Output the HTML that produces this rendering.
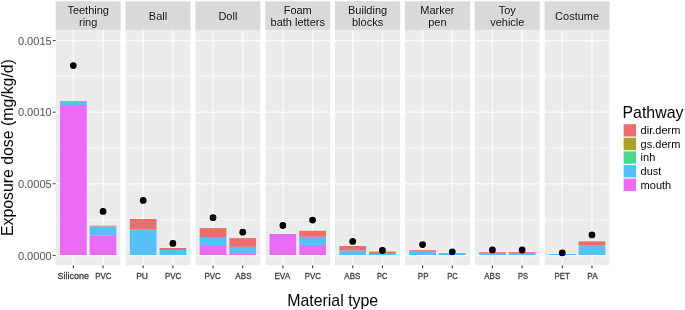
<!DOCTYPE html><html><head><meta charset="utf-8"><style>html,body{margin:0;padding:0;background:#fff;}svg{display:block;will-change:transform;}text{font-family:"Liberation Sans",sans-serif;}</style></head><body>
<svg width="685" height="310" viewBox="0 0 685 310">
<defs><filter id="bl" x="0" y="0" width="100%" height="100%" filterUnits="userSpaceOnUse" color-interpolation-filters="sRGB"><feConvolveMatrix order="3" kernelMatrix="0 -0.05 0 -0.05 1.2 -0.05 0 -0.05 0" edgeMode="duplicate" preserveAlpha="true"/></filter></defs>
<rect x="0" y="0" width="685" height="310" fill="#fff"/>
<g filter="url(#bl)">
<rect x="55.50" y="1.0" width="65.35" height="29.80" fill="#D9D9D9"/>
<rect x="55.50" y="29.8" width="65.35" height="235.70" fill="#EAECEB"/>
<rect x="55.50" y="219.11" width="65.35" height="0.9" fill="#F6F6F6"/>
<rect x="55.50" y="147.51" width="65.35" height="0.9" fill="#F6F6F6"/>
<rect x="55.50" y="75.92" width="65.35" height="0.9" fill="#F6F6F6"/>
<rect x="55.50" y="255.00" width="65.35" height="1.4" fill="#FAFAFA"/>
<rect x="55.50" y="183.06" width="65.35" height="1.4" fill="#FAFAFA"/>
<rect x="55.50" y="111.47" width="65.35" height="1.4" fill="#FAFAFA"/>
<rect x="55.50" y="39.88" width="65.35" height="1.4" fill="#FAFAFA"/>
<rect x="72.62" y="29.8" width="1.4" height="235.70" fill="#FAFAFA"/>
<rect x="102.33" y="29.8" width="1.4" height="235.70" fill="#FAFAFA"/>
<rect x="59.96" y="105.00" width="26.73" height="150.00" fill="#EA6CF4"/>
<rect x="59.96" y="101.60" width="26.73" height="3.40" fill="#56C0F8"/>
<rect x="59.96" y="100.95" width="26.73" height="0.65" fill="#EE6E6C"/>
<circle cx="73.32" cy="65.6" r="3.4" fill="#000"/>
<rect x="72.77" y="265.5" width="1.1" height="2.7" fill="#333"/>
<text x="57.54" y="279.2" font-size="9.9" fill="#333333" stroke="#333333" stroke-width="0.3" textLength="31.36" lengthAdjust="spacingAndGlyphs">Silicone</text>
<rect x="89.66" y="235.30" width="26.73" height="19.70" fill="#EA6CF4"/>
<rect x="89.66" y="226.50" width="26.73" height="8.80" fill="#56C0F8"/>
<rect x="89.66" y="225.70" width="26.73" height="0.80" fill="#EE6E6C"/>
<circle cx="103.03" cy="211.4" r="3.4" fill="#000"/>
<rect x="102.48" y="265.5" width="1.1" height="2.7" fill="#333"/>
<text x="95.19" y="279.2" font-size="9.9" fill="#333333" stroke="#333333" stroke-width="0.3" textLength="16.29" lengthAdjust="spacingAndGlyphs">PVC</text>
<text transform="translate(88.17 13.50) scale(1 1.04)" font-size="11.0" fill="#1A1A1A" text-anchor="middle">Teething</text>
<text transform="translate(88.17 25.90) scale(1 1.04)" font-size="11.0" fill="#1A1A1A" text-anchor="middle">ring</text>
<rect x="125.35" y="1.0" width="65.35" height="29.80" fill="#D9D9D9"/>
<rect x="125.35" y="29.8" width="65.35" height="235.70" fill="#EAECEB"/>
<rect x="125.35" y="219.11" width="65.35" height="0.9" fill="#F6F6F6"/>
<rect x="125.35" y="147.51" width="65.35" height="0.9" fill="#F6F6F6"/>
<rect x="125.35" y="75.92" width="65.35" height="0.9" fill="#F6F6F6"/>
<rect x="125.35" y="255.00" width="65.35" height="1.4" fill="#FAFAFA"/>
<rect x="125.35" y="183.06" width="65.35" height="1.4" fill="#FAFAFA"/>
<rect x="125.35" y="111.47" width="65.35" height="1.4" fill="#FAFAFA"/>
<rect x="125.35" y="39.88" width="65.35" height="1.4" fill="#FAFAFA"/>
<rect x="142.47" y="29.8" width="1.4" height="235.70" fill="#FAFAFA"/>
<rect x="172.18" y="29.8" width="1.4" height="235.70" fill="#FAFAFA"/>
<rect x="129.81" y="229.60" width="26.73" height="25.40" fill="#56C0F8"/>
<rect x="129.81" y="219.00" width="26.73" height="10.60" fill="#EE6E6C"/>
<circle cx="143.17" cy="200.4" r="3.4" fill="#000"/>
<rect x="142.62" y="265.5" width="1.1" height="2.7" fill="#333"/>
<text x="136.20" y="279.2" font-size="9.9" fill="#333333" stroke="#333333" stroke-width="0.3" textLength="11.84" lengthAdjust="spacingAndGlyphs">PU</text>
<rect x="159.51" y="250.00" width="26.73" height="5.00" fill="#56C0F8"/>
<rect x="159.51" y="248.00" width="26.73" height="2.00" fill="#EE6E6C"/>
<circle cx="172.88" cy="243.4" r="3.4" fill="#000"/>
<rect x="172.33" y="265.5" width="1.1" height="2.7" fill="#333"/>
<text x="164.92" y="279.2" font-size="9.9" fill="#333333" stroke="#333333" stroke-width="0.3" textLength="16.34" lengthAdjust="spacingAndGlyphs">PVC</text>
<text transform="translate(158.02 19.70) scale(1 1.04)" font-size="11.0" fill="#1A1A1A" text-anchor="middle">Ball</text>
<rect x="195.20" y="1.0" width="65.35" height="29.80" fill="#D9D9D9"/>
<rect x="195.20" y="29.8" width="65.35" height="235.70" fill="#EAECEB"/>
<rect x="195.20" y="219.11" width="65.35" height="0.9" fill="#F6F6F6"/>
<rect x="195.20" y="147.51" width="65.35" height="0.9" fill="#F6F6F6"/>
<rect x="195.20" y="75.92" width="65.35" height="0.9" fill="#F6F6F6"/>
<rect x="195.20" y="255.00" width="65.35" height="1.4" fill="#FAFAFA"/>
<rect x="195.20" y="183.06" width="65.35" height="1.4" fill="#FAFAFA"/>
<rect x="195.20" y="111.47" width="65.35" height="1.4" fill="#FAFAFA"/>
<rect x="195.20" y="39.88" width="65.35" height="1.4" fill="#FAFAFA"/>
<rect x="212.32" y="29.8" width="1.4" height="235.70" fill="#FAFAFA"/>
<rect x="242.03" y="29.8" width="1.4" height="235.70" fill="#FAFAFA"/>
<rect x="199.66" y="245.10" width="26.73" height="9.90" fill="#EA6CF4"/>
<rect x="199.66" y="237.00" width="26.73" height="8.10" fill="#56C0F8"/>
<rect x="199.66" y="228.10" width="26.73" height="8.90" fill="#EE6E6C"/>
<circle cx="213.02" cy="217.7" r="3.4" fill="#000"/>
<rect x="212.47" y="265.5" width="1.1" height="2.7" fill="#333"/>
<text x="204.45" y="279.2" font-size="9.9" fill="#333333" stroke="#333333" stroke-width="0.3" textLength="16.14" lengthAdjust="spacingAndGlyphs">PVC</text>
<rect x="229.36" y="253.90" width="26.73" height="1.10" fill="#EA6CF4"/>
<rect x="229.36" y="246.80" width="26.73" height="7.10" fill="#56C0F8"/>
<rect x="229.36" y="238.10" width="26.73" height="8.70" fill="#EE6E6C"/>
<circle cx="242.73" cy="232.2" r="3.4" fill="#000"/>
<rect x="242.18" y="265.5" width="1.1" height="2.7" fill="#333"/>
<text x="235.29" y="279.2" font-size="9.9" fill="#333333" stroke="#333333" stroke-width="0.3" textLength="16.28" lengthAdjust="spacingAndGlyphs">ABS</text>
<text transform="translate(227.88 19.70) scale(1 1.04)" font-size="11.0" fill="#1A1A1A" text-anchor="middle">Doll</text>
<rect x="265.05" y="1.0" width="65.35" height="29.80" fill="#D9D9D9"/>
<rect x="265.05" y="29.8" width="65.35" height="235.70" fill="#EAECEB"/>
<rect x="265.05" y="219.11" width="65.35" height="0.9" fill="#F6F6F6"/>
<rect x="265.05" y="147.51" width="65.35" height="0.9" fill="#F6F6F6"/>
<rect x="265.05" y="75.92" width="65.35" height="0.9" fill="#F6F6F6"/>
<rect x="265.05" y="255.00" width="65.35" height="1.4" fill="#FAFAFA"/>
<rect x="265.05" y="183.06" width="65.35" height="1.4" fill="#FAFAFA"/>
<rect x="265.05" y="111.47" width="65.35" height="1.4" fill="#FAFAFA"/>
<rect x="265.05" y="39.88" width="65.35" height="1.4" fill="#FAFAFA"/>
<rect x="282.17" y="29.8" width="1.4" height="235.70" fill="#FAFAFA"/>
<rect x="311.88" y="29.8" width="1.4" height="235.70" fill="#FAFAFA"/>
<rect x="269.51" y="234.00" width="26.73" height="21.00" fill="#EA6CF4"/>
<circle cx="282.87" cy="225.5" r="3.4" fill="#000"/>
<rect x="282.32" y="265.5" width="1.1" height="2.7" fill="#333"/>
<text x="274.39" y="279.2" font-size="9.9" fill="#333333" stroke="#333333" stroke-width="0.3" textLength="15.74" lengthAdjust="spacingAndGlyphs">EVA</text>
<rect x="299.21" y="244.90" width="26.73" height="10.10" fill="#EA6CF4"/>
<rect x="299.21" y="236.80" width="26.73" height="8.10" fill="#56C0F8"/>
<rect x="299.21" y="230.80" width="26.73" height="6.00" fill="#EE6E6C"/>
<circle cx="312.58" cy="220.1" r="3.4" fill="#000"/>
<rect x="312.03" y="265.5" width="1.1" height="2.7" fill="#333"/>
<text x="304.84" y="279.2" font-size="9.9" fill="#333333" stroke="#333333" stroke-width="0.3" textLength="16.11" lengthAdjust="spacingAndGlyphs">PVC</text>
<text transform="translate(297.72 13.50) scale(1 1.04)" font-size="11.0" fill="#1A1A1A" text-anchor="middle">Foam</text>
<text transform="translate(297.72 25.90) scale(1 1.04)" font-size="11.0" fill="#1A1A1A" text-anchor="middle">bath letters</text>
<rect x="334.90" y="1.0" width="65.35" height="29.80" fill="#D9D9D9"/>
<rect x="334.90" y="29.8" width="65.35" height="235.70" fill="#EAECEB"/>
<rect x="334.90" y="219.11" width="65.35" height="0.9" fill="#F6F6F6"/>
<rect x="334.90" y="147.51" width="65.35" height="0.9" fill="#F6F6F6"/>
<rect x="334.90" y="75.92" width="65.35" height="0.9" fill="#F6F6F6"/>
<rect x="334.90" y="255.00" width="65.35" height="1.4" fill="#FAFAFA"/>
<rect x="334.90" y="183.06" width="65.35" height="1.4" fill="#FAFAFA"/>
<rect x="334.90" y="111.47" width="65.35" height="1.4" fill="#FAFAFA"/>
<rect x="334.90" y="39.88" width="65.35" height="1.4" fill="#FAFAFA"/>
<rect x="352.02" y="29.8" width="1.4" height="235.70" fill="#FAFAFA"/>
<rect x="381.73" y="29.8" width="1.4" height="235.70" fill="#FAFAFA"/>
<rect x="339.36" y="250.60" width="26.73" height="4.40" fill="#56C0F8"/>
<rect x="339.36" y="246.00" width="26.73" height="4.60" fill="#EE6E6C"/>
<circle cx="352.72" cy="241.4" r="3.4" fill="#000"/>
<rect x="352.17" y="265.5" width="1.1" height="2.7" fill="#333"/>
<text x="344.32" y="279.2" font-size="9.9" fill="#333333" stroke="#333333" stroke-width="0.3" textLength="16.01" lengthAdjust="spacingAndGlyphs">ABS</text>
<rect x="369.06" y="253.90" width="26.73" height="1.10" fill="#56C0F8"/>
<rect x="369.06" y="251.60" width="26.73" height="2.30" fill="#EE6E6C"/>
<circle cx="382.43" cy="250.4" r="3.4" fill="#000"/>
<rect x="381.88" y="265.5" width="1.1" height="2.7" fill="#333"/>
<text x="377.01" y="279.2" font-size="9.9" fill="#333333" stroke="#333333" stroke-width="0.3" textLength="10.40" lengthAdjust="spacingAndGlyphs">PC</text>
<text transform="translate(367.57 13.50) scale(1 1.04)" font-size="11.0" fill="#1A1A1A" text-anchor="middle">Building</text>
<text transform="translate(367.57 25.90) scale(1 1.04)" font-size="11.0" fill="#1A1A1A" text-anchor="middle">blocks</text>
<rect x="404.75" y="1.0" width="65.35" height="29.80" fill="#D9D9D9"/>
<rect x="404.75" y="29.8" width="65.35" height="235.70" fill="#EAECEB"/>
<rect x="404.75" y="219.11" width="65.35" height="0.9" fill="#F6F6F6"/>
<rect x="404.75" y="147.51" width="65.35" height="0.9" fill="#F6F6F6"/>
<rect x="404.75" y="75.92" width="65.35" height="0.9" fill="#F6F6F6"/>
<rect x="404.75" y="255.00" width="65.35" height="1.4" fill="#FAFAFA"/>
<rect x="404.75" y="183.06" width="65.35" height="1.4" fill="#FAFAFA"/>
<rect x="404.75" y="111.47" width="65.35" height="1.4" fill="#FAFAFA"/>
<rect x="404.75" y="39.88" width="65.35" height="1.4" fill="#FAFAFA"/>
<rect x="421.87" y="29.8" width="1.4" height="235.70" fill="#FAFAFA"/>
<rect x="451.58" y="29.8" width="1.4" height="235.70" fill="#FAFAFA"/>
<rect x="409.21" y="250.90" width="26.73" height="4.10" fill="#56C0F8"/>
<rect x="409.21" y="250.10" width="26.73" height="0.80" fill="#EE6E6C"/>
<circle cx="422.57" cy="244.6" r="3.4" fill="#000"/>
<rect x="422.02" y="265.5" width="1.1" height="2.7" fill="#333"/>
<text x="417.81" y="279.2" font-size="9.9" fill="#333333" stroke="#333333" stroke-width="0.3" textLength="10.68" lengthAdjust="spacingAndGlyphs">PP</text>
<rect x="438.91" y="254.00" width="26.73" height="1.00" fill="#56C0F8"/>
<rect x="438.91" y="253.30" width="26.73" height="0.70" fill="#EE6E6C"/>
<circle cx="452.28" cy="251.8" r="3.4" fill="#000"/>
<rect x="451.73" y="265.5" width="1.1" height="2.7" fill="#333"/>
<text x="447.19" y="279.2" font-size="9.9" fill="#333333" stroke="#333333" stroke-width="0.3" textLength="10.63" lengthAdjust="spacingAndGlyphs">PC</text>
<text transform="translate(437.43 13.50) scale(1 1.04)" font-size="11.0" fill="#1A1A1A" text-anchor="middle">Marker</text>
<text transform="translate(437.43 25.90) scale(1 1.04)" font-size="11.0" fill="#1A1A1A" text-anchor="middle">pen</text>
<rect x="474.60" y="1.0" width="65.35" height="29.80" fill="#D9D9D9"/>
<rect x="474.60" y="29.8" width="65.35" height="235.70" fill="#EAECEB"/>
<rect x="474.60" y="219.11" width="65.35" height="0.9" fill="#F6F6F6"/>
<rect x="474.60" y="147.51" width="65.35" height="0.9" fill="#F6F6F6"/>
<rect x="474.60" y="75.92" width="65.35" height="0.9" fill="#F6F6F6"/>
<rect x="474.60" y="255.00" width="65.35" height="1.4" fill="#FAFAFA"/>
<rect x="474.60" y="183.06" width="65.35" height="1.4" fill="#FAFAFA"/>
<rect x="474.60" y="111.47" width="65.35" height="1.4" fill="#FAFAFA"/>
<rect x="474.60" y="39.88" width="65.35" height="1.4" fill="#FAFAFA"/>
<rect x="491.72" y="29.8" width="1.4" height="235.70" fill="#FAFAFA"/>
<rect x="521.43" y="29.8" width="1.4" height="235.70" fill="#FAFAFA"/>
<rect x="479.06" y="252.80" width="26.73" height="2.20" fill="#56C0F8"/>
<rect x="479.06" y="252.00" width="26.73" height="0.80" fill="#EE6E6C"/>
<circle cx="492.42" cy="249.9" r="3.4" fill="#000"/>
<rect x="491.87" y="265.5" width="1.1" height="2.7" fill="#333"/>
<text x="484.29" y="279.2" font-size="9.9" fill="#333333" stroke="#333333" stroke-width="0.3" textLength="15.98" lengthAdjust="spacingAndGlyphs">ABS</text>
<rect x="508.76" y="252.80" width="26.73" height="2.20" fill="#56C0F8"/>
<rect x="508.76" y="252.00" width="26.73" height="0.80" fill="#EE6E6C"/>
<circle cx="522.13" cy="250.0" r="3.4" fill="#000"/>
<rect x="521.58" y="265.5" width="1.1" height="2.7" fill="#333"/>
<text x="517.97" y="279.2" font-size="9.9" fill="#333333" stroke="#333333" stroke-width="0.3" textLength="9.94" lengthAdjust="spacingAndGlyphs">PS</text>
<text transform="translate(507.27 13.50) scale(1 1.04)" font-size="11.0" fill="#1A1A1A" text-anchor="middle">Toy</text>
<text transform="translate(507.27 25.90) scale(1 1.04)" font-size="11.0" fill="#1A1A1A" text-anchor="middle">vehicle</text>
<rect x="544.45" y="1.0" width="65.35" height="29.80" fill="#D9D9D9"/>
<rect x="544.45" y="29.8" width="65.35" height="235.70" fill="#EAECEB"/>
<rect x="544.45" y="219.11" width="65.35" height="0.9" fill="#F6F6F6"/>
<rect x="544.45" y="147.51" width="65.35" height="0.9" fill="#F6F6F6"/>
<rect x="544.45" y="75.92" width="65.35" height="0.9" fill="#F6F6F6"/>
<rect x="544.45" y="255.00" width="65.35" height="1.4" fill="#FAFAFA"/>
<rect x="544.45" y="183.06" width="65.35" height="1.4" fill="#FAFAFA"/>
<rect x="544.45" y="111.47" width="65.35" height="1.4" fill="#FAFAFA"/>
<rect x="544.45" y="39.88" width="65.35" height="1.4" fill="#FAFAFA"/>
<rect x="561.57" y="29.8" width="1.4" height="235.70" fill="#FAFAFA"/>
<rect x="591.28" y="29.8" width="1.4" height="235.70" fill="#FAFAFA"/>
<rect x="548.91" y="254.00" width="26.73" height="1.00" fill="#56C0F8"/>
<circle cx="562.27" cy="252.9" r="3.4" fill="#000"/>
<rect x="561.72" y="265.5" width="1.1" height="2.7" fill="#333"/>
<text x="554.60" y="279.2" font-size="9.9" fill="#333333" stroke="#333333" stroke-width="0.3" textLength="15.25" lengthAdjust="spacingAndGlyphs">PET</text>
<rect x="578.61" y="245.70" width="26.73" height="9.30" fill="#56C0F8"/>
<rect x="578.61" y="241.30" width="26.73" height="4.40" fill="#EE6E6C"/>
<circle cx="591.98" cy="234.9" r="3.4" fill="#000"/>
<rect x="591.43" y="265.5" width="1.1" height="2.7" fill="#333"/>
<text x="587.32" y="279.2" font-size="9.9" fill="#333333" stroke="#333333" stroke-width="0.3" textLength="10.24" lengthAdjust="spacingAndGlyphs">PA</text>
<text transform="translate(577.12 19.70) scale(1 1.04)" font-size="11.0" fill="#1A1A1A" text-anchor="middle">Costume</text>
<rect x="52.8" y="254.85" width="2.7" height="1.0" fill="#333"/>
<text transform="translate(51.80 259.55) scale(1 1.04)" font-size="11.1" fill="#4D4D4D" text-anchor="end">0.0000</text>
<rect x="52.8" y="183.26" width="2.7" height="1.0" fill="#333"/>
<text transform="translate(51.80 187.96) scale(1 1.04)" font-size="11.1" fill="#4D4D4D" text-anchor="end">0.0005</text>
<rect x="52.8" y="111.67" width="2.7" height="1.0" fill="#333"/>
<text transform="translate(51.80 116.37) scale(1 1.04)" font-size="11.1" fill="#4D4D4D" text-anchor="end">0.0010</text>
<rect x="52.8" y="40.08" width="2.7" height="1.0" fill="#333"/>
<text transform="translate(51.80 44.78) scale(1 1.04)" font-size="11.1" fill="#4D4D4D" text-anchor="end">0.0015</text>
<text transform="translate(332.70 305.70) scale(1 1.04)" font-size="15.9" fill="#000" text-anchor="middle">Material type</text>
<text transform="translate(12.90 147.60) rotate(-90) scale(1 1.04)" font-size="15.85" fill="#000" text-anchor="middle">Exposure dose (mg/kg/d)</text>
<text transform="translate(622.50 118.00) scale(1 1.04)" font-size="15.9" fill="#000" text-anchor="start">Pathway</text>
<rect x="623.6" y="124.10" width="12.5" height="12.4" fill="#EE6E6C"/>
<text transform="translate(640.60 133.90) scale(1 1.04)" font-size="11.0" fill="#000" text-anchor="start">dir.derm</text>
<rect x="623.6" y="137.75" width="12.5" height="12.4" fill="#A4A426"/>
<text transform="translate(640.60 147.55) scale(1 1.04)" font-size="11.0" fill="#000" text-anchor="start">gs.derm</text>
<rect x="623.6" y="151.40" width="12.5" height="12.4" fill="#4CD78C"/>
<text transform="translate(640.60 161.20) scale(1 1.04)" font-size="11.0" fill="#000" text-anchor="start">inh</text>
<rect x="623.6" y="165.05" width="12.5" height="12.4" fill="#56C0F8"/>
<text transform="translate(640.60 174.85) scale(1 1.04)" font-size="11.0" fill="#000" text-anchor="start">dust</text>
<rect x="623.6" y="178.70" width="12.5" height="12.4" fill="#EA6CF4"/>
<text transform="translate(640.60 188.50) scale(1 1.04)" font-size="11.0" fill="#000" text-anchor="start">mouth</text>
</g></svg></body></html>
